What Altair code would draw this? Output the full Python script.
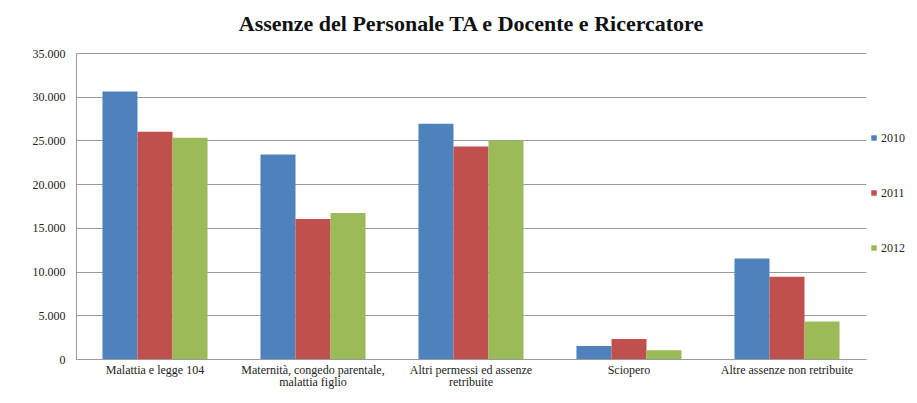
import altair as alt
import pandas as pd

categories = [
    "Malattia e legge 104",
    "Maternità, congedo parentale,\nmalattia figlio",
    "Altri permessi ed assenze\nretribuite",
    "Sciopero",
    "Altre assenze non retribuite",
]
years = ["2010", "2011", "2012"]
v2010 = [30600, 23400, 26900, 1500, 11500]
v2011 = [26000, 16000, 24300, 2300, 9400]
v2012 = [25300, 16700, 25000, 1000, 4300]
colors = ["#4F81BD", "#C0504D", "#9BBB59"]
y_ticks = [0, 5000, 10000, 15000, 20000, 25000, 30000, 35000]

rows = []
for yr, vals in zip(years, [v2010, v2011, v2012]):
    for c, v in zip(categories, vals):
        rows.append({"categoria": c, "anno": yr, "valore": v})
df = pd.DataFrame(rows)

serif = "Liberation Serif"

chart = alt.Chart(df).mark_bar().encode(
    x=alt.X(
        "categoria:N",
        sort=categories,
        scale=alt.Scale(paddingInner=0.335, paddingOuter=0.1675),
        axis=alt.Axis(
            title=None,
            labelAngle=0,
            labelExpr="split(datum.label, '\\n')",
            ticks=False,
            grid=False,
            labelPadding=5,
            labelLineHeight=12,
            labelBaseline="top",
            domainColor="#9a9a9a",
        ),
    ),
    xOffset=alt.XOffset("anno:N", sort=years, scale=alt.Scale(paddingInner=0, paddingOuter=0)),
    y=alt.Y(
        "valore:Q",
        scale=alt.Scale(domain=[0, 35000]),
        axis=alt.Axis(
            title=None,
            values=y_ticks,
            labelExpr="replace(format(datum.value, ','), ',', '.')",
            ticks=False,
            labelPadding=11,
            gridColor="#9a9a9a",
            domainColor="#9a9a9a",
        ),
    ),
    color=alt.Color(
        "anno:N",
        sort=years,
        scale=alt.Scale(domain=years, range=colors),
        legend=alt.Legend(
            title=None,
            orient="none",
            legendX=792,
            legendY=79,
            symbolType="square",
            symbolSize=30,
            symbolStrokeWidth=0,
            rowPadding=43,
            labelOffset=1,
            labelFontSize=12,
            labelFont=serif,
            labelColor="#222222",
            padding=0,
        ),
    ),
).properties(
    width=790,
    height=306,
    title=alt.Title(
        "Assenze del Personale TA e Docente e Ricercatore",
        font=serif,
        fontSize=22,
        fontWeight="bold",
        anchor="middle",
        color="#111111",
        offset=11,
    ),
    autosize=alt.AutoSizeParams(type="none"),
    padding={"left": 68, "top": 45, "right": 43, "bottom": 31},
).configure(
    style={"cell": {"stroke": "transparent", "strokeWidth": 0}},
).configure_axis(
    labelFont=serif,
    labelFontSize=12,
    labelColor="#222222",
    gridWidth=1,
).configure_view(
    stroke="transparent",
    strokeWidth=0,
)

chart.save("out.html", embed_options={"renderer": "svg", "actions": False})
